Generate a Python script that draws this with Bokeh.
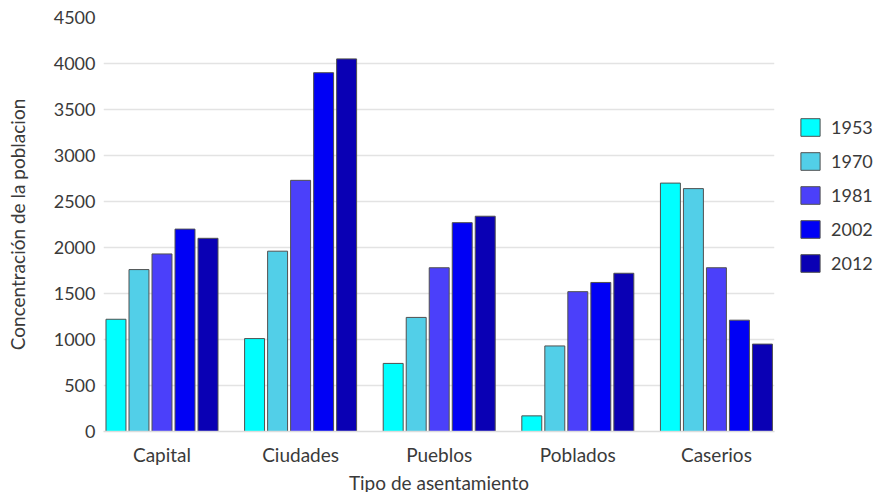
from bokeh.plotting import figure
from bokeh.models import (ColumnDataSource, Range1d, FixedTicker, Legend, LegendItem)
from bokeh.transform import dodge
from bokeh.embed import file_html
from bokeh.resources import INLINE

categories = ["Capital", "Ciudades", "Pueblos", "Poblados", "Caserios"]
years = ["1953", "1970", "1981", "2002", "2012"]
v1953 = [1220, 1010, 740, 170, 2700]
v1970 = [1760, 1960, 1240, 930, 2640]
v1981 = [1930, 2730, 1780, 1520, 1780]
v2002 = [2200, 3900, 2270, 1620, 1210]
v2012 = [2100, 4050, 2340, 1720, 950]
y_ticks = [0, 500, 1000, 1500, 2000, 2500, 3000, 3500, 4000, 4500]

colors = ["#00FFFF", "#52CFE8", "#4B40FA", "#0000F5", "#0A00B4"]
series = [v1953, v1970, v1981, v2002, v2012]

FONT = "Lato"
TXT = "#3a3a3a"

src = ColumnDataSource(dict(x=list(range(len(categories))),
                            **{"y" + yr: s for yr, s in zip(years, series)}))

p = figure(frame_width=671, frame_height=414, output_backend="svg", toolbar_location=None,
           x_range=Range1d(-0.422, 4.419), y_range=Range1d(0, 4500),
           min_border_left=103, min_border_right=96, min_border_top=17,
           min_border_bottom=10)
p.outline_line_color = None

pitch = 0.166
bw = 0.144
renderers = []
for i, yr in enumerate(years):
    r = p.vbar(x=dodge("x", (i - 2) * pitch), top="y" + yr, width=bw, bottom=0,
               source=src, fill_color=colors[i], line_color="#505050", line_width=1)
    renderers.append(r)

legend = Legend(items=[LegendItem(label=yr, renderers=[r]) for yr, r in zip(years, renderers)],
                location=(24, 157), orientation="vertical")
legend.padding = 0
legend.margin = 0
legend.border_line_color = None
legend.background_fill_alpha = 0
legend.glyph_width = 24
legend.glyph_height = 22
legend.label_height = 22
legend.spacing = 12
legend.label_standoff = 9
legend.label_text_font = FONT
legend.label_text_font_size = "18px"
legend.label_text_color = TXT
p.add_layout(legend, "right")

# axes
p.xaxis.ticker = FixedTicker(ticks=list(range(len(categories))))
p.xaxis.major_label_overrides = {i: c for i, c in enumerate(categories)}
p.xaxis.axis_label = "Tipo de asentamiento"
p.yaxis.axis_label = "Concentración de la poblacion"
p.yaxis.ticker = FixedTicker(ticks=y_ticks)

for ax in (p.xaxis[0], p.yaxis[0]):
    ax.major_tick_line_color = None
    ax.minor_tick_line_color = None
    ax.major_tick_out = 0
    ax.major_tick_in = 0
    ax.minor_tick_out = 0
    ax.minor_tick_in = 0
    ax.major_label_text_font = FONT
    ax.major_label_text_font_size = "18px"
    ax.major_label_text_color = TXT
    ax.axis_label_text_font = FONT
    ax.axis_label_text_font_size = "19px"
    ax.axis_label_text_font_style = "normal"
    ax.axis_label_text_color = TXT

p.yaxis.axis_line_color = None
p.yaxis.major_label_standoff = 8
p.yaxis.axis_label_standoff = 22
p.xaxis.major_label_text_font_size = "19px"
p.xaxis.axis_line_color = "#dcdcdc"
p.xaxis.axis_line_width = 1.5
p.xaxis.major_label_standoff = 11
p.xaxis.axis_label_standoff = 2

p.xgrid.grid_line_color = None
p.ygrid.grid_line_color = "#e3e3e3"
p.ygrid.grid_line_width = 1.5

open("out.html", "w").write(file_html(p, INLINE))
